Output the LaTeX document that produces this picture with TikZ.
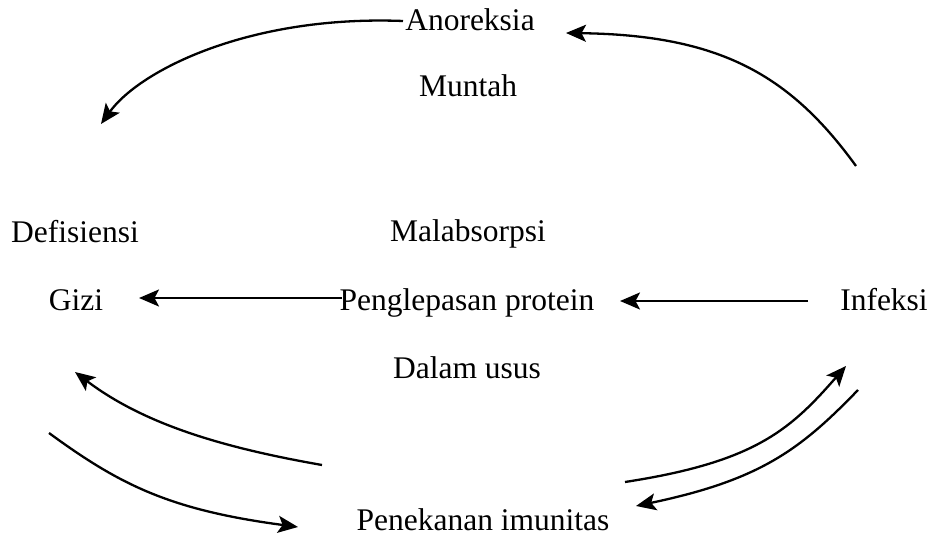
\documentclass[tikz,border=0pt]{standalone}
\usepackage{fontspec}
\setmainfont{Liberation Serif}
\usetikzlibrary{arrows.meta}
\begin{document}
\begin{tikzpicture}[x=1pt,y=-1pt,
  lbl/.style={anchor=base,inner sep=0pt,font=\fontsize{31.5}{36}\selectfont},
  conn/.style={line width=2.3pt,-{Stealth[length=20pt,width=17pt,inset=4.5pt]}}]
\useasboundingbox[fill=white] (0,0) rectangle (932,537);
\node[lbl] (anor) at (470,31) {Anoreksia};
\node[lbl] (munt) at (468,97) {Muntah};
\node[lbl] (defi) at (75,243) {Defisiensi};
\node[lbl] (mala) at (468,242) {Malabsorpsi};
\node[lbl] (gizi) at (76,311) {Gizi};
\node[lbl] (pengl) at (467,311) {Penglepasan protein};
\node[lbl] (infe) at (884,311) {Infeksi};
\node[lbl] (dala) at (467,378) {Dalam usus};
\node[lbl] (pene) at (483,530) {Penekanan imunitas};
% connector end points
\coordinate (a1s) at (403,21);
\coordinate (a1e) at (101,124);
\coordinate (a2s) at (856,166);
\coordinate (a2e) at (566,33);
\coordinate (a3s) at (808,301);
\coordinate (a3e) at (620,301);
\coordinate (a4s) at (342,298);
\coordinate (a4e) at (139,298);
\coordinate (a5s) at (322,465);
\coordinate (a5e) at (75,372);
\coordinate (a6s) at (49,433);
\coordinate (a6e) at (298,527);
\coordinate (a7s) at (625,482);
\coordinate (a7e) at (846,366);
\coordinate (a8s) at (858,390);
\coordinate (a8e) at (636,506);
\draw[conn] (a1s) .. controls (250,15) and (140,70) .. (a1e);
\draw[conn] (a2s) .. controls (790,75) and (720,35) .. (a2e);
\draw[conn] (a3s) -- (a3e);
\draw[conn] (a4s) -- (a4e);
\draw[conn] (a5s) .. controls (225,448) and (145,425) .. (a5e);
\draw[conn] (a6s) .. controls (120,485) and (170,510) .. (a6e);
\draw[conn] (a7s) .. controls (755,462) and (790,430) .. (a7e);
\draw[conn] (a8s) .. controls (800,450) and (760,480) .. (a8e);
\end{tikzpicture}
\end{document}
